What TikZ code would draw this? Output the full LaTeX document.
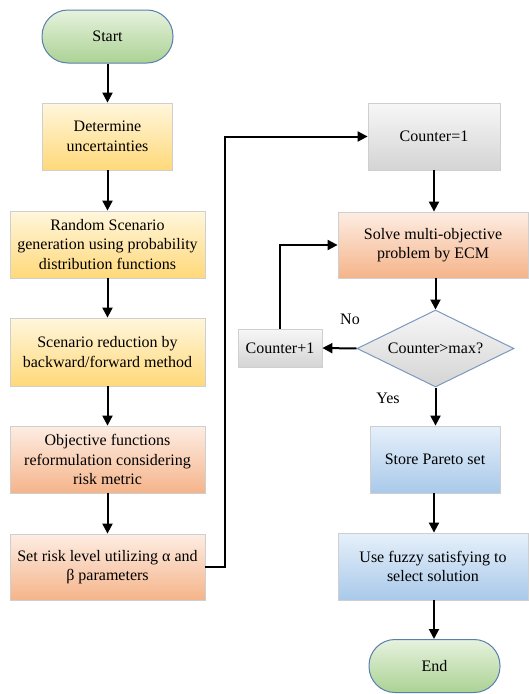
\documentclass[tikz,border=0pt]{standalone}
\usepackage{fontspec}
\setmainfont{Liberation Serif}
\usetikzlibrary{arrows.meta,shapes.geometric}
\definecolor{yelT}{HTML}{FFF6DC}
\definecolor{yelB}{HTML}{FFD97A}
\definecolor{orT}{HTML}{FDEDE3}
\definecolor{orB}{HTML}{F5B48A}
\definecolor{grT}{HTML}{F7F7F7}
\definecolor{grB}{HTML}{D4D4D4}
\definecolor{blT}{HTML}{E6F0FA}
\definecolor{blB}{HTML}{A9C9EA}
\definecolor{gnT}{HTML}{E6F2DE}
\definecolor{gnB}{HTML}{ABD294}
\definecolor{termB}{HTML}{5A7FAE}
\definecolor{boxB}{HTML}{CFCFCF}
\begin{document}
\begin{tikzpicture}[x=1pt,y=-1pt,
  txt/.style={align=center,font=\fontsize{16}{19.5}\selectfont,text=black,inner sep=1pt},
  box/.style={txt,rectangle,draw=boxB,line width=0.8pt},
  yelbox/.style={box,top color=yelT,bottom color=yelB},
  orbox/.style={box,top color=orT,bottom color=orB},
  grbox/.style={box,top color=grT,bottom color=grB},
  blbox/.style={box,top color=blT,bottom color=blB},
  term/.style={txt,rectangle,rounded corners=26pt,draw=termB,line width=1pt,top color=gnT,bottom color=gnB,minimum width=131pt,minimum height=53pt},
  dec/.style={txt,diamond,draw=termB!80,line width=1pt,top color=grT,bottom color=grB,minimum width=157pt,minimum height=77pt,inner sep=0pt,shape aspect=2},
  arr/.style={line width=2pt,-{Triangle[length=10pt,width=10pt]}},
  lbl/.style={font=\fontsize{16}{18}\selectfont,inner sep=0pt}
]
\useasboundingbox (0,0) rectangle (529,694);

\node[term] (start) at (107.5,36.5) {Start};
\node[yelbox,minimum width=130pt,minimum height=67pt] (det) at (107.5,136.5) {Determine\\uncertainties};
\node[yelbox,minimum width=195pt,minimum height=67pt] (rand) at (107.5,244.5) {Random Scenario\\generation using probability\\distribution functions};
\node[yelbox,minimum width=195pt,minimum height=68pt] (red) at (107.5,352) {Scenario reduction by\\backward/forward method};
\node[orbox,minimum width=195pt,minimum height=67pt] (obj) at (107.5,459.5) {Objective functions\\reformulation considering\\risk metric};
\node[orbox,minimum width=195pt,minimum height=66pt] (risk) at (107.5,567) {Set risk level utilizing α and\\β parameters};

\node[grbox,minimum width=132pt,minimum height=67pt] (c1) at (434,136.5) {Counter=1};
\node[orbox,minimum width=190pt,minimum height=66pt] (solve) at (433,245) {Solve multi-objective\\problem by ECM};
\node[dec] (dia) at (435.5,348.5) {Counter>max?};
\node[grbox,minimum width=84pt,minimum height=38pt] (cp1) at (280,348) {Counter+1};
\node[blbox,minimum width=130pt,minimum height=67pt] (store) at (435,459.5) {Store Pareto set};
\node[blbox,minimum width=190pt,minimum height=67pt] (fuzzy) at (433,566.5) {Use fuzzy satisfying to\\select solution};
\node[term] (end) at (434.5,666) {End};

\draw[arr] (start) -- (det);
\draw[arr] (det) -- (rand);
\draw[arr] (rand) -- (red);
\draw[arr] (red) -- (obj);
\draw[arr] (obj) -- (risk);
\draw[arr] (risk.east) -- ++(20,0) |- (c1.west);
\draw[arr] (c1) -- (c1 |- solve.north);
\draw[arr] (solve.south -| dia.north) -- (dia.north);
\draw[arr] (dia.west) -- (cp1.east);
\draw[arr] (cp1.north) |- (solve.west);
\draw[arr] (dia.south) -- (dia.south |- store.north);
\draw[arr] (store.south -| 434,0) -- (434,0 |- fuzzy.north);
\draw[arr] (fuzzy.south -| 434,0) -- (434,0 |- end.north);

\node[lbl] (no) at (350,319) {No};
\node[lbl] (yes) at (388,398) {Yes};
\end{tikzpicture}
\end{document}
